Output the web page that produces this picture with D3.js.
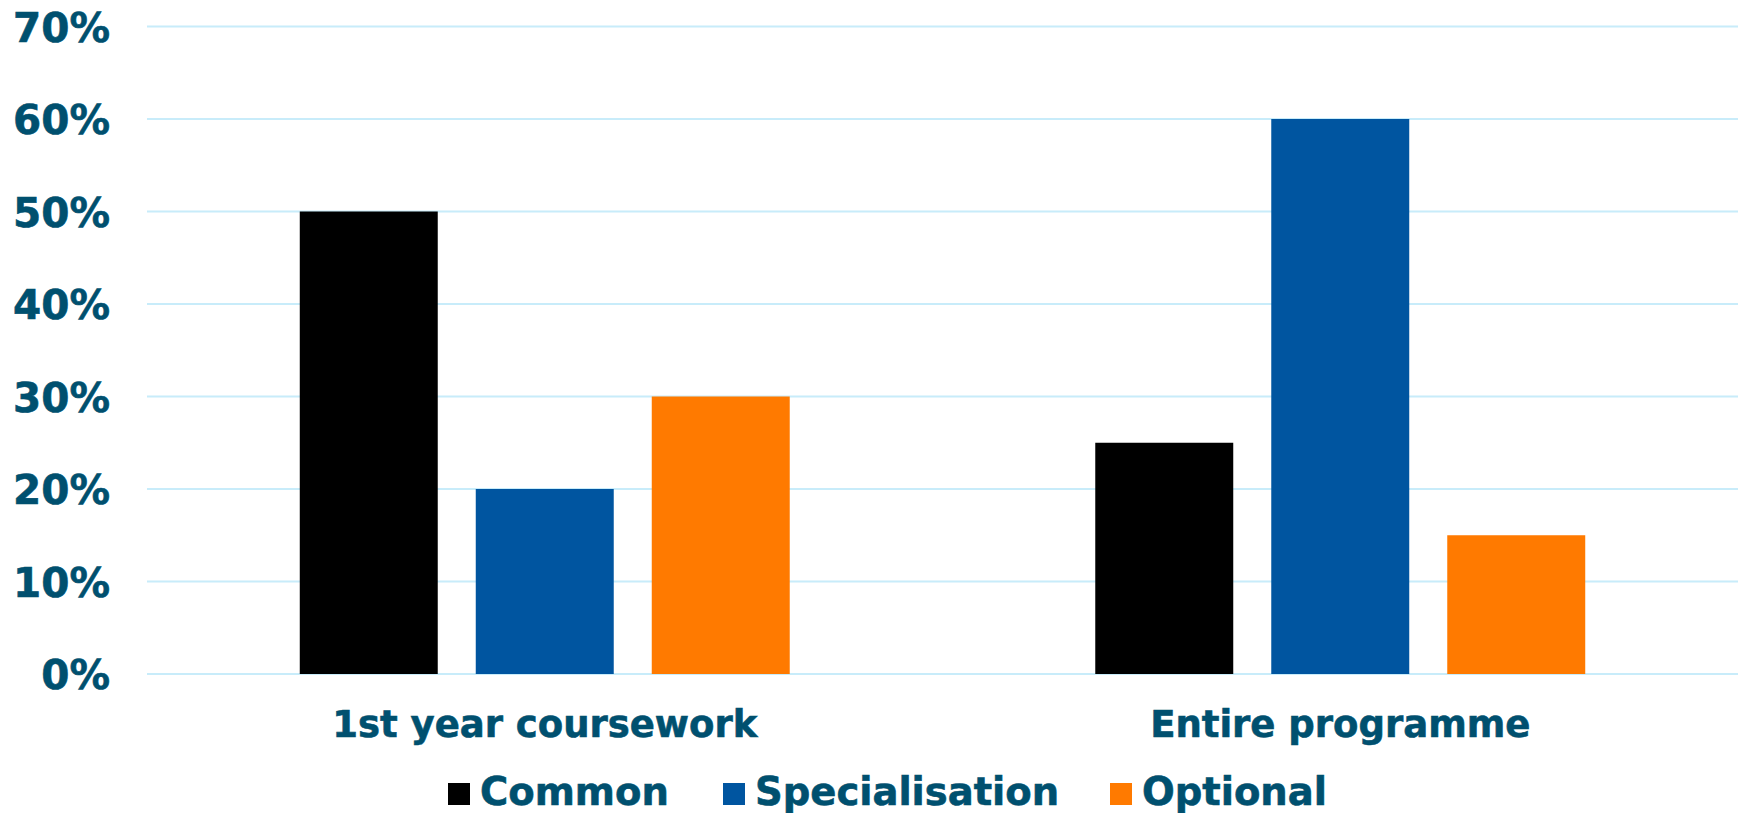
<!DOCTYPE html>
<html>
<head>
<meta charset="utf-8">
<script src="https://cdn.jsdelivr.net/npm/d3@7"></script>
<style>
  html, body { margin: 0; padding: 0; background: #fff; }
  svg { display: block; }
  text { font-family: Verdana, "DejaVu Sans", sans-serif; font-weight: bold; fill: #00506f; stroke: #00506f; stroke-width: 0.6px; }
</style>
</head>
<body>
<svg id="chart" width="1742" height="813"></svg>
<script>
const categories = ["1st year coursework", "Entire programme"];
const seriesNames = ["Common", "Specialisation", "Optional"];
const common = [50, 25];
const specialisation = [20, 60];
const optional = [30, 15];
const yTicks = [0, 10, 20, 30, 40, 50, 60, 70];
const colors = ["#000000", "#0055a0", "#ff7a00"];

const seriesValues = [common, specialisation, optional];
const svg = d3.select("#chart");
const plotLeft = 147, plotRight = 1738, plotTop = 26.5, plotBottom = 674;

const x = d3.scaleBand().domain(categories).range([plotLeft, plotRight]).paddingInner(0).paddingOuter(0);
const xs = d3.scaleBand().domain(seriesNames).range([0, x.bandwidth()]).paddingInner(0.216).paddingOuter(0.868);
const y = d3.scaleLinear().domain([0, 70]).range([plotBottom, plotTop]);

// gridlines
svg.append("g").selectAll("line").data(yTicks).join("line")
  .attr("x1", plotLeft).attr("x2", plotRight)
  .attr("y1", d => y(d)).attr("y2", d => y(d))
  .attr("stroke", "#c8ecfa").attr("stroke-width", 2);

// y axis labels
const yAxis = d3.axisLeft(y).tickValues(yTicks).tickFormat(d => d + "%").tickSize(0).tickPadding(0);
const yg = svg.append("g").attr("transform", "translate(110,0)").call(yAxis);
yg.select(".domain").remove();
yg.selectAll("text").style("font-size", "40.5px").attr("dy", "0.36em")
  .style("font-family", 'Verdana, "DejaVu Sans", sans-serif').style("font-weight", "bold").attr("fill", "#00506f");

// bars
categories.forEach((c, ci) => {
  svg.append("g").selectAll("rect").data(seriesNames).join("rect")
    .attr("x", s => x(c) + xs(s))
    .attr("width", xs.bandwidth())
    .attr("y", (s, si) => y(seriesValues[si][ci]))
    .attr("height", (s, si) => y(0) - y(seriesValues[si][ci]))
    .attr("fill", (s, si) => colors[si]);
});

// x axis labels
const xAxis = d3.axisBottom(x).tickSize(0).tickPadding(0);
const xg = svg.append("g").attr("transform", "translate(0,737)").call(xAxis);
xg.select(".domain").remove();
xg.selectAll("text").attr("dy", 0).attr("y", 0).style("font-size", "37px")
  .style("font-family", 'Verdana, "DejaVu Sans", sans-serif').style("font-weight", "bold").attr("fill", "#00506f");

// legend
const legendX = [448, 723, 1110];
const lg = svg.append("g");
seriesNames.forEach((s, i) => {
  lg.append("rect").attr("x", legendX[i]).attr("y", 783).attr("width", 22).attr("height", 22).attr("fill", colors[i]);
  lg.append("text").attr("x", legendX[i] + 32).attr("y", 805).style("font-size", "38.5px").text(s);
});
</script>
</body>
</html>
